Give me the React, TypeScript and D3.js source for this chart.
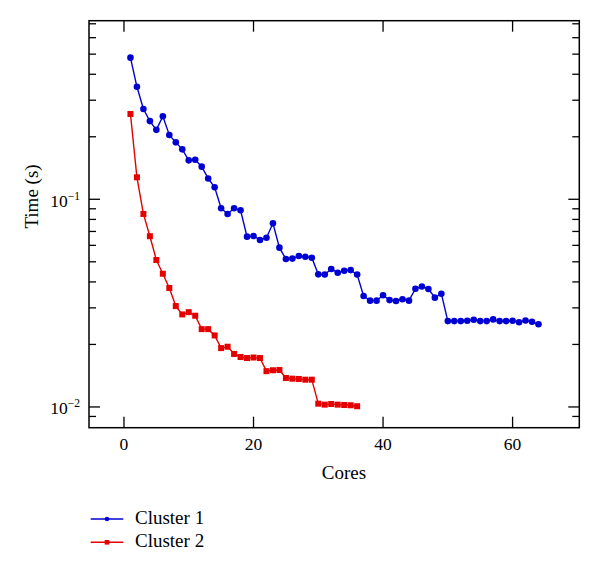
import React from "react";
import * as d3 from "d3";

const cluster1: number[] = [
  0.481, 0.348, 0.272, 0.238, 0.216, 0.251, 0.204, 0.188, 0.174, 0.154,
  0.155, 0.1436, 0.126, 0.1142, 0.0905, 0.085, 0.0905, 0.0885, 0.0661, 0.0666,
  0.0637, 0.0653, 0.0766, 0.0585, 0.0516, 0.0518, 0.0533, 0.0529, 0.0523, 0.0435,
  0.0434, 0.0462, 0.0443, 0.0453, 0.0456, 0.0434, 0.0342, 0.0325, 0.0325, 0.0345,
  0.0327, 0.0324, 0.033, 0.0325, 0.0371, 0.038, 0.037, 0.0336, 0.0351, 0.0259,
  0.0259, 0.0259, 0.026, 0.0263, 0.0259, 0.0259, 0.0264, 0.0259, 0.0259, 0.026,
  0.0256, 0.0261, 0.0257, 0.025,
];

const cluster2: number[] = [
  0.2575, 0.1276, 0.085, 0.0664, 0.051, 0.0438, 0.0374, 0.0306, 0.0279, 0.0286,
  0.0275, 0.0237, 0.0237, 0.0221, 0.0192, 0.0195, 0.018, 0.0174, 0.0172, 0.0173,
  0.0172, 0.01487, 0.01502, 0.01507, 0.01379, 0.01368, 0.01364, 0.01353, 0.01353, 0.01037,
  0.01026, 0.01033, 0.01026, 0.01022, 0.01019, 0.01008,
];

const xTicks: number[] = [0, 20, 40, 60];
const yMajorTicks: number[] = [0.1, 0.01];
const yMajorLabels: string[] = ["−1", "−2"];
const yMinorTicks: number[] = [
  0.7, 0.6, 0.5, 0.4, 0.3, 0.2, 0.09, 0.08, 0.07, 0.06, 0.05, 0.04, 0.03, 0.02, 0.009,
];
const seriesNames: string[] = ["Cluster 1", "Cluster 2"];
const seriesColors: string[] = ["#0000d2", "#e40000"];

const FONT = "'Liberation Serif', 'Times New Roman', serif";

export default function App() {
  const left = 89, right = 579.3, top = 20.7, bottom = 427.7;
  const x = d3.scaleLinear().domain([-5.4, 70.3]).range([left, right]);
  const y = d3.scaleLog().domain([0.007945, 0.7244]).range([bottom, top]);

  const line = d3
    .line<number>()
    .x((_, i) => x(i + 1))
    .y((d) => y(d));

  const sq = 6;
  const legendY = [519, 542.3];

  return (
    <svg
      width={600}
      height={575}
      style={{ position: "absolute", left: 0, top: 0, background: "#fff" }}
      fontFamily={FONT}
    >
      <rect x={0} y={0} width={600} height={575} fill="#fff" />
      {/* data */}
      <path d={line(cluster1) || ""} fill="none" stroke={seriesColors[0]} strokeWidth={1.4} />
      {cluster1.map((v, i) => (
        <circle key={"c1" + i} cx={x(i + 1)} cy={y(v)} r={3.3} fill={seriesColors[0]} />
      ))}
      <path d={line(cluster2) || ""} fill="none" stroke={seriesColors[1]} strokeWidth={1.4} />
      {cluster2.map((v, i) => (
        <rect
          key={"c2" + i}
          x={x(i + 1) - sq / 2}
          y={y(v) - sq / 2}
          width={sq}
          height={sq}
          fill={seriesColors[1]}
        />
      ))}

      {/* frame */}
      <rect x={left} y={top} width={right - left} height={bottom - top} fill="none" stroke="#000" strokeWidth={1.5} />

      {/* x ticks */}
      {xTicks.map((t) => (
        <g key={"xt" + t}>
          <line x1={x(t)} x2={x(t)} y1={bottom} y2={bottom - 11} stroke="#000" strokeWidth={1.3} />
          <line x1={x(t)} x2={x(t)} y1={top} y2={top + 11} stroke="#000" strokeWidth={1.3} />
          <text x={x(t)} y={bottom + 22} textAnchor="middle" fontSize={17.5}>
            {t}
          </text>
        </g>
      ))}

      {/* y major ticks */}
      {yMajorTicks.map((t, i) => (
        <g key={"ym" + t}>
          <line x1={left} x2={left + 11} y1={y(t)} y2={y(t)} stroke="#000" strokeWidth={1.3} />
          <line x1={right} x2={right - 11} y1={y(t)} y2={y(t)} stroke="#000" strokeWidth={1.3} />
          <text x={80} y={y(t) + 7.5} textAnchor="end" fontSize={17.5}>
            10
            <tspan fontSize={11.5} dy={-7}>
              {yMajorLabels[i]}
            </tspan>
          </text>
        </g>
      ))}
      {yMinorTicks.map((t) => (
        <g key={"yn" + t}>
          <line x1={left} x2={left + 7} y1={y(t)} y2={y(t)} stroke="#000" strokeWidth={1.3} />
          <line x1={right} x2={right - 7} y1={y(t)} y2={y(t)} stroke="#000" strokeWidth={1.3} />
        </g>
      ))}

      {/* axis labels */}
      <text x={344} y={479} textAnchor="middle" fontSize={19}>
        Cores
      </text>
      <text
        transform={`translate(38,196.5) rotate(-90)`}
        textAnchor="middle"
        fontSize={19}
      >
        Time (s)
      </text>

      {/* legend */}
      {seriesNames.map((name, i) => (
        <g key={"lg" + i}>
          <line x1={90.7} x2={123.3} y1={legendY[i]} y2={legendY[i]} stroke={seriesColors[i]} strokeWidth={1.4} />
          {i === 0 ? (
            <circle cx={107} cy={legendY[i]} r={2.3} fill={seriesColors[i]} />
          ) : (
            <rect x={107 - 2.3} y={legendY[i] - 2.3} width={4.6} height={4.6} fill={seriesColors[i]} />
          )}
          <text x={135} y={legendY[i] + 5} fontSize={19}>
            {name}
          </text>
        </g>
      ))}
    </svg>
  );
}
